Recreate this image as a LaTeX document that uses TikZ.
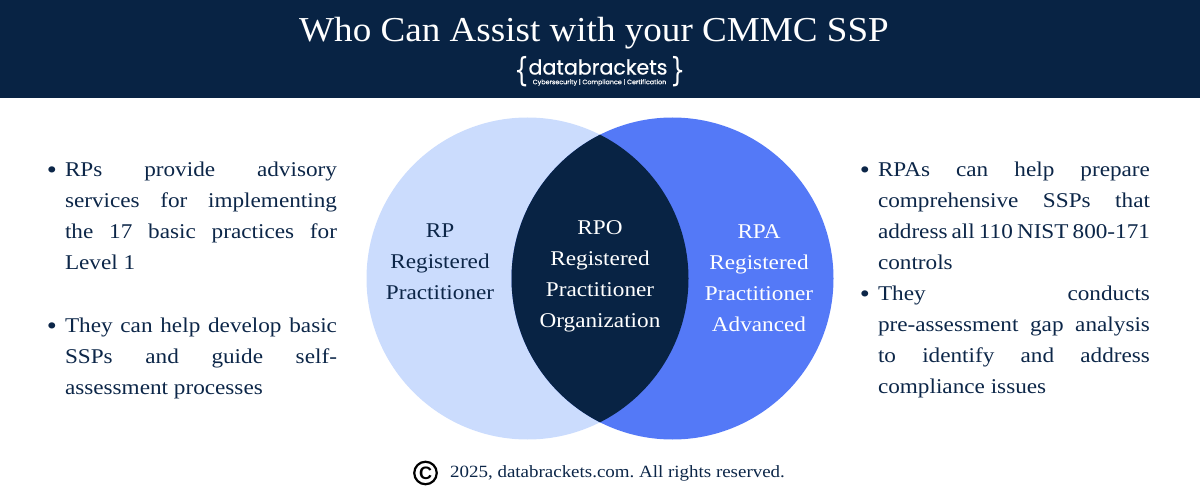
\documentclass[tikz,border=0pt]{standalone}
\usepackage{fontspec}
\setmainfont[FakeStretch=1.105]{Liberation Serif}
\newfontfamily\titlefont[FakeStretch=1.06]{Liberation Serif}
\newfontfamily\logofont[FakeBold=0.35]{Poppins}
\newfontfamily\bracefont[FakeStretch=0.72]{DejaVu Sans}
\newfontfamily\copyfont{Liberation Sans}
\definecolor{navy}{HTML}{082344}
\definecolor{lightblue}{HTML}{CBDCFD}
\definecolor{midblue}{HTML}{5479F7}
\definecolor{inktext}{HTML}{0C2648}
\newcommand{\bodysize}{\fontsize{21}{31}\selectfont\frenchspacing}
\newcommand{\blt}{\leavevmode\llap{\raisebox{-1.5pt}{\fontsize{26}{26}\selectfont\textbullet}\hspace{8pt}}}
\tikzset{
  x=1pt,y=-1pt,
  para/.style={anchor=north west,inner sep=0pt,outer sep=0pt,text width=272pt,align=justify,text=inktext,font=\bodysize},
  venn/.style={circle,minimum size=322pt,inner sep=0pt,outer sep=0pt},
  vlabel/.style={align=center,inner sep=0pt,font=\bodysize},
}
\begin{document}
\begin{tikzpicture}
\useasboundingbox (0,0) rectangle (1200,500);
\fill[navy] (0,0) rectangle (1200,98);
\node[text=white,inner sep=0pt,font=\titlefont\fontsize{35}{38}\selectfont] (title) at (594,33) {Who Can Assist with your CMMC SSP};
\node[text=white,inner sep=0pt,font=\logofont\fontsize{20.6}{24}\selectfont] (logo) at (598,67) {databrackets};
\node[text=white,inner sep=0pt,font=\logofont\fontsize{6.4}{7}\selectfont] (tag) at (599.5,82.5) {Cybersecurity | Compliance | Certification};
\node[text=white,inner sep=0pt,font=\bracefont\fontsize{33}{35}\selectfont] (bl) at (522,72) {\{};
\node[text=white,inner sep=0pt,font=\bracefont\fontsize{33}{35}\selectfont] (br) at (678,72) {\}};
\node[venn,fill=lightblue] (rp) at (527.5,278.5) {};
\node[venn,fill=midblue] (rpa) at (672.5,278.5) {};
\begin{scope}
  \clip (527.5,278.5) circle[radius=161];
  \fill[navy] (672.5,278.5) circle[radius=161];
\end{scope}
\node[vlabel,text=inktext] (rpt) at (440,262) {RP\\Registered\\Practitioner};
\node[vlabel,text=white] (rpot) at (600,276) {RPO\\Registered\\Practitioner\\Organization};
\node[vlabel,text=white] (rpat) at (759,278) {RPA\\Registered\\Practitioner\\Advanced};
\node[para] (l1) at (65,162) {\blt RPs provide advisory\linebreak services for implementing\linebreak the 17 basic practices for\linebreak Level 1};
\node[para] (l2) at (65,318) {\blt They can help develop basic\linebreak SSPs and guide self-\linebreak assessment processes};
\node[para] (r1) at (878,162) {\blt RPAs can help prepare\linebreak comprehensive SSPs that\linebreak address all 110 NIST 800-171\linebreak controls\par
\blt They conducts\linebreak pre-assessment gap analysis\linebreak to identify and address\linebreak compliance issues};
\node[circle,draw=black,line width=2.2pt,minimum size=22.5pt,inner sep=0pt,text=black,font=\copyfont\bfseries\fontsize{18}{20}\selectfont] (copy) at (425.5,473) {C};
\node[anchor=west,inner sep=0pt,text=inktext,font=\fontsize{17.15}{20}\selectfont\frenchspacing] (foot) at (450,473) {2025, databrackets.com. All rights reserved.};
\end{tikzpicture}
\end{document}
